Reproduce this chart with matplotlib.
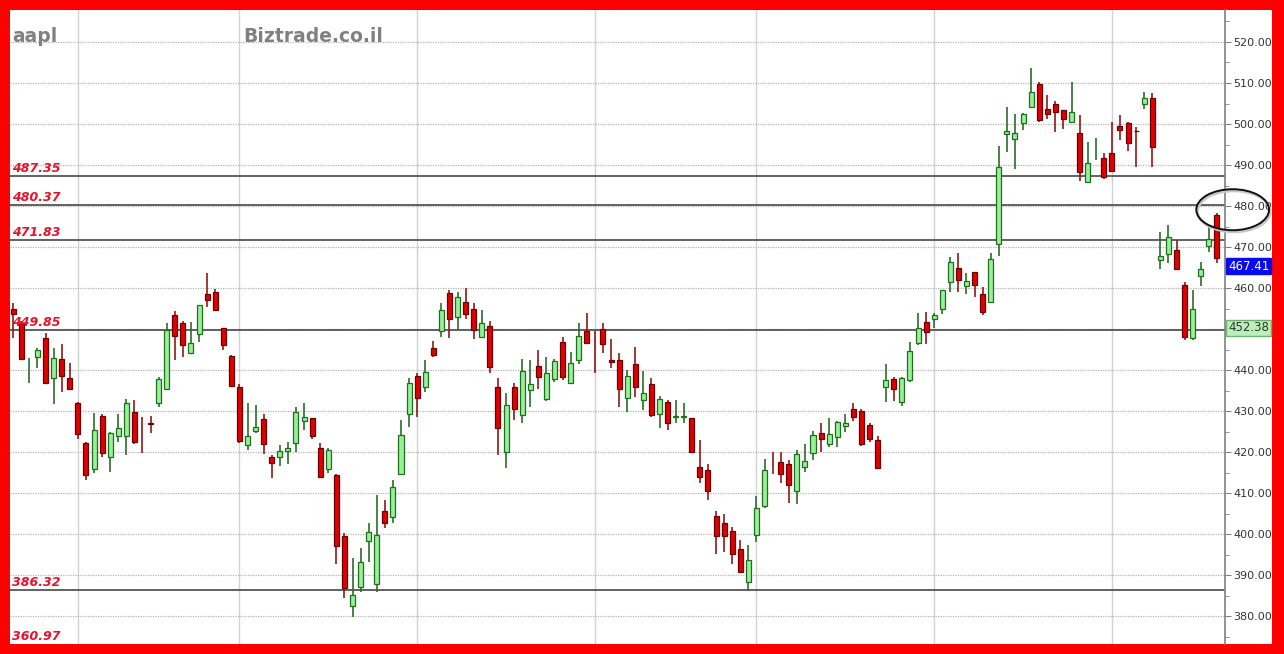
import matplotlib
matplotlib.use("Agg")
import matplotlib.pyplot as plt
from matplotlib.patches import Ellipse, Rectangle

# daily candles, oldest first
opens = [454.9, 451.4, 440.8, 443.2, 447.7, 438.0, 442.6, 438.0, 432.0, 422.1,
         415.8, 428.9, 418.7, 423.9, 423.9, 429.7, 424.01, 427.0, 431.9, 435.5,
         453.4, 451.4, 444.1, 448.8, 458.5, 459.1, 450.3, 443.5, 435.8, 421.7,
         425.2, 428.0, 418.7, 418.9, 420.2, 422.1, 427.6, 428.2, 421.1, 415.8,
         414.4, 399.5, 382.5, 387.2, 398.4, 387.9, 405.6, 404.2, 414.6, 429.2,
         438.5, 435.8, 445.3, 449.6, 458.7, 453.0, 456.7, 454.8, 448.1, 450.7,
         435.9, 420.1, 435.9, 429.0, 435.1, 441.0, 432.9, 437.7, 446.8, 436.8,
         442.4, 449.5, 447.01, 450.0, 442.4, 442.4, 433.3, 441.4, 432.7, 436.5,
         429.4, 432.2, 428.5, 428.5, 428.4, 416.3, 415.6, 404.4, 402.8, 400.8,
         396.3, 388.4, 399.8, 406.8, 417.01, 417.6, 417.1, 410.6, 416.4, 419.8,
         424.7, 421.9, 423.6, 426.4, 430.4, 430.1, 426.6, 422.9, 435.8, 437.7,
         432.1, 437.6, 446.7, 451.8, 452.4, 454.8, 461.4, 464.8, 460.6, 463.8,
         458.5, 456.7, 470.7, 497.6, 496.3, 500.2, 504.2, 509.8, 503.6, 505.0,
         503.3, 500.6, 497.9, 485.8, 493.6, 491.8, 493.0, 499.5, 500.3, 498.3,
         505.0, 506.3, 466.8, 468.3, 469.3, 460.7, 447.7, 462.9, 470.3, 477.8]
highs = [456.4, 452.0, 443.0, 445.5, 449.0, 445.3, 446.3, 441.8, 432.3, 422.5,
         429.5, 429.2, 425.0, 429.4, 433.0, 432.7, 428.5, 428.8, 438.2, 451.4,
         454.5, 452.0, 451.8, 455.9, 463.6, 459.7, 450.3, 443.7, 436.5, 432.0,
         431.5, 429.2, 419.3, 421.7, 422.5, 431.1, 432.0, 428.4, 422.1, 420.9,
         414.6, 400.2, 394.1, 396.5, 402.6, 409.5, 408.3, 413.2, 427.8, 438.0,
         439.2, 442.4, 447.1, 456.3, 459.5, 459.1, 459.9, 456.4, 454.6, 452.0,
         438.0, 434.5, 436.9, 442.6, 442.4, 445.0, 443.1, 442.6, 448.1, 444.5,
         451.4, 453.8, 449.5, 451.4, 447.5, 444.1, 440.1, 445.7, 439.8, 438.1,
         433.7, 432.7, 432.7, 431.9, 428.4, 422.9, 417.0, 405.7, 405.0, 401.8,
         398.5, 397.3, 409.3, 418.4, 420.1, 420.1, 418.0, 420.5, 422.0, 425.2,
         427.0, 428.2, 427.6, 429.2, 431.9, 430.5, 427.0, 423.9, 441.5, 438.4,
         438.4, 446.9, 454.0, 454.2, 453.8, 459.5, 467.5, 468.6, 463.6, 464.0,
         460.3, 468.5, 494.6, 504.2, 502.4, 502.6, 513.6, 510.3, 507.1, 505.6,
         503.4, 510.2, 502.2, 495.7, 496.5, 492.9, 500.6, 502.2, 500.6, 499.3,
         507.9, 507.5, 473.7, 475.4, 471.7, 461.5, 459.5, 466.4, 475.0, 478.4]
lows = [447.8, 442.5, 436.9, 440.6, 436.5, 431.7, 434.6, 435.3, 423.3, 413.2,
        415.0, 418.7, 415.2, 422.5, 419.3, 421.9, 419.7, 424.6, 431.1, 435.1,
        442.4, 443.2, 444.1, 446.9, 455.4, 454.5, 444.9, 435.8, 422.1, 420.5,
        424.6, 419.5, 413.8, 416.6, 417.0, 420.1, 425.4, 423.3, 414.0, 414.8,
        392.7, 384.3, 379.7, 385.9, 393.2, 386.0, 401.4, 402.6, 414.6, 426.2,
        428.5, 434.7, 443.1, 448.1, 447.7, 449.8, 452.4, 447.5, 448.1, 439.2,
        419.3, 416.0, 427.8, 427.0, 431.1, 435.3, 432.5, 437.2, 437.6, 436.6,
        441.4, 446.5, 439.4, 444.2, 440.4, 430.9, 429.8, 433.5, 430.2, 428.5,
        425.8, 425.5, 427.2, 427.2, 420.1, 412.4, 408.3, 395.1, 395.7, 392.7,
        390.6, 386.2, 398.1, 406.3, 414.6, 412.4, 407.6, 407.3, 415.2, 418.0,
        420.1, 421.3, 421.3, 425.0, 427.6, 421.6, 422.5, 415.9, 432.1, 432.5,
        431.3, 437.2, 446.1, 446.3, 450.2, 453.7, 459.1, 459.1, 458.5, 457.9,
        453.4, 456.7, 467.8, 493.2, 489.0, 498.5, 503.8, 500.6, 501.1, 498.1,
        498.9, 500.3, 486.2, 485.8, 491.2, 486.5, 488.4, 496.1, 493.5, 489.6,
        503.6, 489.4, 464.6, 466.0, 464.4, 447.3, 447.3, 460.5, 468.9, 466.0]
closes = [453.7, 442.7, 440.8, 444.9, 436.8, 443.0, 438.6, 435.3, 424.4, 414.4,
          425.4, 419.8, 424.7, 425.8, 432.0, 422.4, 424.0, 426.9, 437.7, 449.7,
          448.4, 446.1, 446.5, 455.9, 457.2, 454.6, 446.1, 436.1, 422.8, 423.9,
          426.0, 422.0, 417.4, 420.3, 421.1, 429.8, 428.5, 423.9, 414.0, 420.5,
          397.1, 386.8, 385.1, 393.2, 400.6, 399.9, 402.8, 411.6, 424.1, 436.8,
          433.3, 439.6, 443.7, 454.6, 452.4, 457.7, 453.7, 449.8, 451.5, 440.8,
          425.8, 431.5, 430.4, 439.8, 436.5, 438.4, 439.2, 442.2, 438.4, 441.8,
          448.4, 446.5, 447.0, 446.3, 442.0, 435.5, 438.6, 435.8, 434.5, 429.0,
          432.9, 427.0, 428.9, 428.8, 420.1, 414.0, 410.6, 399.5, 399.5, 395.1,
          390.8, 393.7, 406.3, 415.6, 417.0, 414.6, 411.9, 419.5, 417.8, 424.1,
          423.3, 424.4, 427.4, 427.2, 428.6, 422.0, 423.3, 416.0, 437.6, 435.5,
          438.0, 444.6, 450.2, 449.3, 453.4, 459.5, 466.3, 462.0, 461.8, 460.7,
          454.1, 467.2, 489.6, 498.4, 497.9, 502.4, 507.7, 501.0, 502.4, 502.9,
          501.1, 503.0, 488.4, 490.6, 493.6, 487.0, 488.6, 498.5, 495.3, 498.2,
          506.3, 494.5, 467.8, 472.5, 464.6, 448.1, 455.0, 464.6, 471.9, 467.4]

levels = [487.35, 480.37, 471.83, 449.85, 386.32, 360.97]
month_starts = [8, 28, 50, 72, 92, 114, 136]
price_ticks = list(range(380, 530, 10))
last_price = 467.41
marker_price = 452.38

W, H = 1284, 654
fig = plt.figure(figsize=(W / 100, H / 100), dpi=100)
fig.patch.set_facecolor("#ff0000")
fig.patches.append(Rectangle((10 / W, 10 / H), 1262 / W, 634 / H,
                             transform=fig.transFigure, facecolor="white",
                             edgecolor="none", zorder=-5))

ax = fig.add_axes([10 / W, 10 / H, 1215 / W, 634 / H])
ax.set_xlim(-0.4, 150)
ax.set_ylim(373.2, 527.8)

# grid; the 450 label sits under the marker box, so leave it blank
ax.set_yticks(price_ticks)
ax.set_yticks(range(375, 530, 10), minor=True)
ax.set_yticklabels(["" if abs(v - marker_price) < 5 else f"{v:.2f}"
                    for v in price_ticks])
ax.set_xticks(month_starts)
ax.set_xticklabels([])
ax.grid(axis="y", color="#b5b5b5", lw=0.9, ls=(0, (1, 1)), zorder=0)
ax.grid(axis="x", color="#d2d2d2", lw=1.0, ls="-", zorder=0)
ax.set_axisbelow(True)

ax.yaxis.tick_right()
ax.tick_params(axis="y", which="major", length=4, color="#808080",
               labelsize=8, labelcolor="#333333", pad=2)
ax.tick_params(axis="y", which="minor", length=3, color="#808080")
ax.tick_params(axis="x", length=0)
for side in ["left", "top", "bottom"]:
    ax.spines[side].set_visible(False)
ax.spines["right"].set_color("#808080")
ax.spines["right"].set_linewidth(1.2)

# candles
xs = list(range(len(opens)))
up = [c >= o for o, c in zip(opens, closes)]
wick_cols = ["#2e6b2e" if u else "#8b1a1a" for u in up]
ax.vlines(xs, lows, highs, colors=wick_cols, lw=1.2, zorder=2)
bx, bb, bh, bf, be = [], [], [], [], []
for i, (o, c, u) in enumerate(zip(opens, closes, up)):
    if abs(c - o) < 0.05:
        continue
    bx.append(i)
    bb.append(min(o, c))
    bh.append(abs(c - o))
    bf.append("#98f098" if u else "#e00000")
    be.append("#1f6f1f" if u else "#6a0000")
ax.bar(bx, bh, bottom=bb, width=0.62, color=bf, edgecolor=be, lw=0.9, zorder=3)

# support / resistance lines
ymin = ax.get_ylim()[0]
for lvl in levels:
    ax.axhline(lvl, color="#555555", lw=1.3, zorder=1)
    ax.annotate(f"{lvl:.2f}", xy=(0, max(lvl, ymin)),
                xycoords=("axes fraction", "data"), xytext=(2, 4),
                textcoords="offset pixels", va="baseline", ha="left",
                fontsize=9, fontweight="bold", fontstyle="italic",
                color="#e8102a", zorder=4)

# price boxes on the right axis
ax.annotate(f"{last_price:.2f}", xy=(1, last_price),
            xycoords=("axes fraction", "data"), xytext=(3, -2),
            textcoords="offset pixels", va="top", ha="left", fontsize=8.5,
            color="white", annotation_clip=False,
            bbox=dict(boxstyle="square,pad=0.15", fc="#0a0aee", ec="#0a0aee"))
ax.annotate(f"{marker_price:.2f}", xy=(1, marker_price),
            xycoords=("axes fraction", "data"), xytext=(3, -2),
            textcoords="offset pixels", va="top", ha="left", fontsize=8.5,
            color="#333333", annotation_clip=False,
            bbox=dict(boxstyle="square,pad=0.15", fc="#b8f0b8", ec="#70b070"))

# circle around the 480 test
ax.add_patch(Ellipse((151.1, 478.7), 9.0, 10.0, fill=False, ec="#c8c8c8",
                     lw=2.0, clip_on=False, zorder=5))
ax.add_patch(Ellipse((150.95, 479.1), 9.0, 10.0, fill=False, ec="#111111",
                     lw=1.4, clip_on=False, zorder=6))

fig.text(12 / W, 1 - 42 / H, "aapl", fontsize=13.5, fontweight="bold",
         color="#808080", va="baseline")
fig.text(243 / W, 1 - 42 / H, "Biztrade.co.il", fontsize=13.5,
         fontweight="bold", color="#808080", va="baseline")

fig.savefig("out.png", dpi=100, facecolor=fig.get_facecolor())
